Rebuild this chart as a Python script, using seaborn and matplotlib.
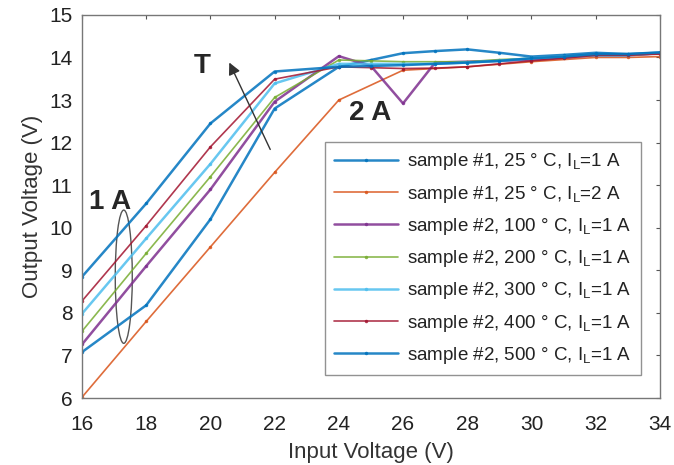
import matplotlib
matplotlib.use("Agg")
import matplotlib.pyplot as plt
from matplotlib.patches import Ellipse
import seaborn as sns

sns.set_style("white")
plt.rcParams['font.family'] = ['Liberation Sans', 'DejaVu Sans']
plt.rcParams['mathtext.default'] = 'regular'

x_main = [16, 18, 20, 22, 24, 25, 26, 27, 28, 29, 30, 31, 32, 33, 34]
x_2a = [16, 18, 20, 22, 24, 26, 28, 30, 32, 33, 34]

s1_25c_1a = [7.08, 8.18, 10.2, 12.8, 13.78, 13.94, 14.1, 14.15, 14.19, 14.11, 14.02, 14.06, 14.11, 14.08, 14.11]
s1_25c_2a = [6.02, 7.8, 9.55, 11.3, 13.0, 13.7, 13.78, 13.9, 14.0, 14.0, 14.02]
s2_100c = [7.26, 9.1, 10.9, 12.96, 14.03, 13.8, 12.92, 13.88, 13.9, 13.92, 13.95, 14.0, 14.05, 14.05, 14.1]
s2_200c = [7.57, 9.4, 11.2, 13.06, 13.94, 13.92, 13.9, 13.9, 13.9, 13.95, 13.98, 14.02, 14.05, 14.05, 14.1]
s2_300c = [7.98, 9.75, 11.5, 13.39, 13.85, 13.85, 13.85, 13.85, 13.88, 13.92, 13.98, 14.02, 14.05, 14.05, 14.1]
s2_400c = [8.28, 10.05, 11.9, 13.49, 13.78, 13.76, 13.74, 13.75, 13.78, 13.85, 13.92, 13.98, 14.05, 14.05, 14.08]
s2_500c = [8.85, 10.57, 12.45, 13.67, 13.78, 13.8, 13.82, 13.85, 13.88, 13.92, 13.98, 14.02, 14.08, 14.08, 14.12]

labels = [
    "sample #1, 25 ° C, I$_L$=1 A",
    "sample #1, 25 ° C, I$_L$=2 A",
    "sample #2, 100 ° C, I$_L$=1 A",
    "sample #2, 200 ° C, I$_L$=1 A",
    "sample #2, 300 ° C, I$_L$=1 A",
    "sample #2, 400 ° C, I$_L$=1 A",
    "sample #2, 500 ° C, I$_L$=1 A",
]
colors = ["#0072BD", "#D95319", "#7E2F8E", "#77AC30", "#4DBEEE", "#A2142F", "#0072BD"]
series = [
    (x_main, s1_25c_1a), (x_2a, s1_25c_2a), (x_main, s2_100c), (x_main, s2_200c),
    (x_main, s2_300c), (x_main, s2_400c), (x_main, s2_500c),
]
widths = [1.8, 1.2, 1.8, 1.2, 1.8, 1.2, 1.8]

fig = plt.figure(figsize=(6.74, 4.65), dpi=100)
ax = fig.add_axes([0.1217, 0.144, 0.979 - 0.1217, 0.968 - 0.144])

for (xs, ys), lab, col, lw in zip(series, labels, colors, widths):
    sns.lineplot(x=xs, y=ys, ax=ax, color=col, label=lab, marker='.', markersize=5,
                 linewidth=lw, sort=False, estimator=None, alpha=0.85, markeredgewidth=0)

ax.set_xlim(16, 34)
ax.set_ylim(6, 15)
ax.set_xticks(range(16, 35, 2))
ax.set_yticks(range(6, 16))
ax.tick_params(direction='in', top=True, right=True, labelsize=15, length=3,
               color='#555555', labelcolor='#222222')
ax.tick_params(axis='x', pad=12)
ax.tick_params(axis='y', pad=7)
for sp in ax.spines.values():
    sp.set_visible(True)
    sp.set_color('#777777')
    sp.set_linewidth(1.0)

ax.set_xlabel("Input Voltage (V)", fontsize=16, color='#333333', labelpad=6)
ax.set_ylabel("Output Voltage (V)", fontsize=16, color='#333333', labelpad=4)

leg = ax.legend(loc='upper left', bbox_to_anchor=(0.42, 0.668), borderaxespad=0,
                fontsize=13.5, handlelength=3.4, labelspacing=0.6, frameon=True,
                fancybox=False, borderpad=0.5, handletextpad=0.5)
leg.get_frame().set_edgecolor('#777777')
leg.get_frame().set_linewidth(1.0)
for t in leg.get_texts():
    t.set_color('#222222')

ax.add_patch(Ellipse((17.3, 8.85), 0.53, 3.13, fill=False, edgecolor='#555555', linewidth=1.0))
ax.text(16.87, 10.6, "1 A", fontsize=20, fontweight='bold', ha='center', va='center')
ax.text(19.75, 13.8, "T", fontsize=20, fontweight='bold', ha='center', va='center')
ax.text(24.97, 12.69, "2 A", fontsize=20, fontweight='bold', ha='center', va='center')
ax.annotate("", xy=(20.55, 13.94), xytext=(21.9, 11.78),
            arrowprops=dict(arrowstyle='-|>', color='#333333', lw=1.0, mutation_scale=18))

fig.savefig("out.png", dpi=100)
